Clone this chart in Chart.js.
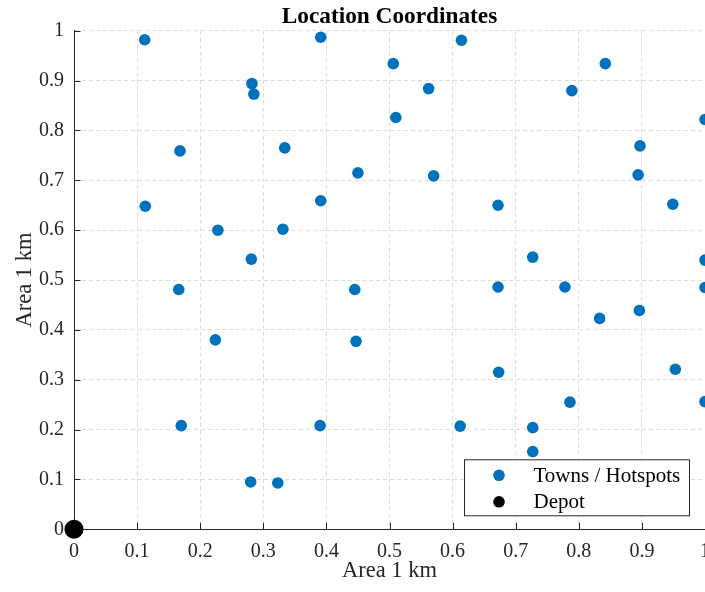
<!DOCTYPE html>
<html>
<head>
<meta charset="utf-8">
<script src="https://cdn.jsdelivr.net/npm/chart.js@4.4.1/dist/chart.umd.min.js"></script>
<style>
  html, body { margin: 0; padding: 0; background: #ffffff; overflow: hidden; }
  #wrap { position: relative; width: 720px; height: 592px; }
</style>
</head>
<body>
<div id="wrap"><canvas id="c"></canvas></div>
<script>
// ---- data ----
const townX = [0.112, 0.391, 0.282, 0.285, 0.168, 0.334, 0.450, 0.113, 0.391, 0.228,
               0.331, 0.281, 0.166, 0.445, 0.224, 0.447, 0.170, 0.390, 0.280, 0.323,
               0.614, 0.506, 0.842, 0.562, 0.789, 0.510, 1.000, 0.897, 0.570, 0.894,
               0.672, 0.949, 0.727, 1.000, 0.672, 0.778, 1.000, 0.896, 0.833, 0.673,
               0.953, 0.786, 1.000, 0.612, 0.727, 0.727];
const townY = [0.982, 0.987, 0.894, 0.873, 0.759, 0.765, 0.715, 0.648, 0.659, 0.600,
               0.602, 0.542, 0.481, 0.481, 0.380, 0.377, 0.208, 0.208, 0.095, 0.093,
               0.981, 0.934, 0.934, 0.884, 0.880, 0.826, 0.822, 0.769, 0.709, 0.711,
               0.650, 0.652, 0.546, 0.540, 0.486, 0.486, 0.485, 0.439, 0.423, 0.315,
               0.321, 0.255, 0.256, 0.207, 0.204, 0.156];
const depotX = [0];
const depotY = [0];
const xTickLabels = ['0', '0.1', '0.2', '0.3', '0.4', '0.5', '0.6', '0.7', '0.8', '0.9', '1'];
const yTickLabels = ['0', '0.1', '0.2', '0.3', '0.4', '0.5', '0.6', '0.7', '0.8', '0.9', '1'];
const seriesNames = ['Towns / Hotspots', 'Depot'];
const titleText = 'Location Coordinates';
const xTitle = 'Area 1 km';
const yTitle = 'Area 1 km';

const SERIF = "'Liberation Serif', 'Times New Roman', serif";
const AXIS_COLOR = '#262626';
const GRID_COLOR = '#dcdcdc';

const toPoints = (xs, ys) => xs.map((x, i) => ({ x: x, y: ys[i] }));

// inward tick marks (MATLAB style)
const innerTicks = {
  id: 'innerTicks',
  beforeDatasetsDraw(chart) {
    const ctx = chart.ctx;
    const a = chart.chartArea;
    const xs = chart.scales.x, ys = chart.scales.y;
    ctx.save();
    ctx.strokeStyle = AXIS_COLOR;
    ctx.lineWidth = 1;
    ctx.beginPath();
    xs.ticks.forEach(t => {
      const px = Math.round(xs.getPixelForValue(t.value)) + 0.5;
      ctx.moveTo(px, a.bottom);
      ctx.lineTo(px, a.bottom - 6.5);
    });
    ys.ticks.forEach(t => {
      const py = Math.round(ys.getPixelForValue(t.value)) + 0.5;
      ctx.moveTo(a.left, py);
      ctx.lineTo(a.left + 6.5, py);
    });
    ctx.stroke();
    ctx.restore();
  }
};

// legend box inside the plot, lower right
const boxLegend = {
  id: 'boxLegend',
  afterDatasetsDraw(chart) {
    const ctx = chart.ctx;
    const a = chart.chartArea;
    const w = 225, h = 56;
    const x0 = a.right - 240.5, y0 = a.bottom - 69.5;
    ctx.save();
    ctx.fillStyle = '#ffffff';
    ctx.fillRect(x0, y0, w, h);
    ctx.strokeStyle = AXIS_COLOR;
    ctx.lineWidth = 1;
    ctx.strokeRect(x0, y0, w, h);
    ctx.font = "21px " + SERIF;
    ctx.textBaseline = 'middle';
    ctx.textAlign = 'left';
    chart.data.datasets.forEach((ds, i) => {
      const cy = y0 + 15.5 + i * 26.5;
      ctx.beginPath();
      ctx.fillStyle = ds.backgroundColor;
      ctx.arc(x0 + 34.5, cy, 5.8, 0, Math.PI * 2);
      ctx.fill();
      ctx.fillStyle = '#000000';
      ctx.fillText(ds.label, x0 + 69, cy + 1);
    });
    ctx.restore();
  }
};

new Chart(document.getElementById('c'), {
  type: 'scatter',
  data: {
    datasets: [
      {
        label: seriesNames[0],
        data: toPoints(townX, townY),
        backgroundColor: '#0072BD',
        borderColor: '#0072BD',
        pointRadius: 5.8,
        pointHoverRadius: 5.8,
        borderWidth: 0,
        clip: false
      },
      {
        label: seriesNames[1],
        data: toPoints(depotX, depotY),
        backgroundColor: '#000000',
        borderColor: '#000000',
        pointRadius: 9.5,
        pointHoverRadius: 9.5,
        borderWidth: 0,
        clip: false
      }
    ]
  },
  options: {
    responsive: true,
    maintainAspectRatio: false,
    animation: false,
    events: [],
    layout: { padding: { left: 0, right: 14, top: 0, bottom: 0 } },
    plugins: {
      legend: { display: false },
      tooltip: { enabled: false },
      title: {
        display: true,
        text: titleText,
        fullSize: false,
        color: '#000000',
        font: { family: SERIF, size: 23.3, weight: 'bold', lineHeight: 1.2 },
        padding: { top: 2.8, bottom: 0 }
      }
    },
    scales: {
      x: {
        type: 'linear',
        min: 0, max: 1,
        afterFit: s => { s.height = 62.7; },
        ticks: {
          stepSize: 0.1,
          color: AXIS_COLOR,
          font: { family: SERIF, size: 20 },
          padding: 10,
          maxRotation: 0,
          callback: (v, i) => xTickLabels[i]
        },
        grid: { color: GRID_COLOR, lineWidth: 1, drawTicks: false },
        border: { display: true, color: AXIS_COLOR, width: 1, dash: [4, 3] },
        title: {
          display: true,
          text: xTitle,
          color: AXIS_COLOR,
          font: { family: SERIF, size: 22.5 },
          padding: { top: 0, bottom: 7 }
        }
      },
      y: {
        type: 'linear',
        min: 0, max: 1,
        afterFit: s => { s.width = 74; },
        ticks: {
          stepSize: 0.1,
          color: AXIS_COLOR,
          font: { family: SERIF, size: 20 },
          padding: 10,
          callback: (v, i) => yTickLabels[i]
        },
        grid: { color: GRID_COLOR, lineWidth: 1, drawTicks: false },
        border: { display: true, color: AXIS_COLOR, width: 1, dash: [4, 3] },
        title: {
          display: true,
          text: yTitle,
          color: AXIS_COLOR,
          font: { family: SERIF, size: 22.5 },
          padding: { top: 11.5, bottom: 0 }
        }
      }
    }
  },
  plugins: [innerTicks, boxLegend]
});
</script>
</body>
</html>
